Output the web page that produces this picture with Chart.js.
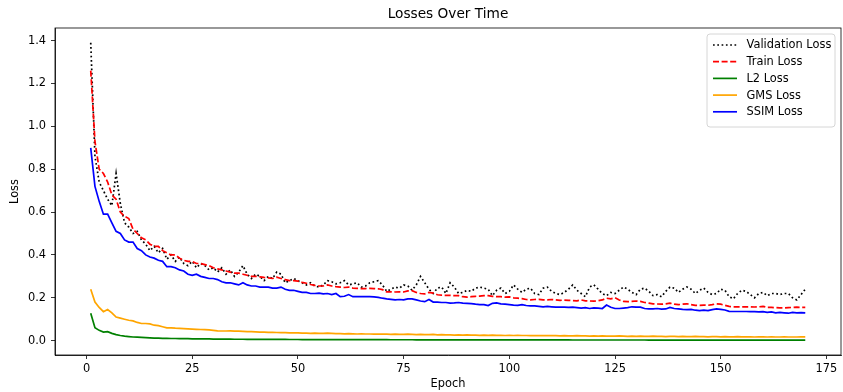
<!DOCTYPE html>
<html>
<head>
<meta charset="utf-8">
<title>Losses Over Time</title>
<script src="https://cdn.jsdelivr.net/npm/chart.js@4.4.0/dist/chart.umd.min.js"></script>
<style>
  html, body { margin: 0; padding: 0; background: #fff; }
  #wrap { width: 843px; height: 392px; }
</style>
</head>
<body>
<div id="wrap"><canvas id="chart-losses" width="843" height="392"></canvas></div>
<script>
// Epoch index (1..170)
const epochs = Array.from({ length: 170 }, (_, i) => i + 1);

const xTicks = [0, 25, 50, 75, 100, 125, 150, 175];
const yTicks = [0.0, 0.2, 0.4, 0.6, 0.8, 1.0, 1.2, 1.4];

const validationLoss = [
  1.39, 0.86, 0.74, 0.70, 0.66, 0.63, 0.78, 0.64, 0.55, 0.53,
  0.50, 0.51, 0.47, 0.45, 0.42, 0.44, 0.41, 0.43, 0.38, 0.40,
  0.37, 0.39, 0.36, 0.35, 0.37, 0.34, 0.36, 0.35, 0.33, 0.34,
  0.32, 0.34, 0.31, 0.33, 0.30, 0.32, 0.35, 0.31, 0.29, 0.31,
  0.30, 0.28, 0.30, 0.29, 0.32, 0.31, 0.27, 0.28, 0.29, 0.28,
  0.27, 0.26, 0.27, 0.255, 0.25, 0.26, 0.28, 0.275, 0.265, 0.27,
  0.28, 0.26, 0.265, 0.27, 0.25, 0.255, 0.27, 0.275, 0.28, 0.26,
  0.23, 0.24, 0.25, 0.245, 0.26, 0.255, 0.235, 0.26, 0.30, 0.27,
  0.24, 0.22, 0.245, 0.25, 0.22, 0.27, 0.25, 0.22, 0.225, 0.235,
  0.23, 0.245, 0.25, 0.245, 0.24, 0.21, 0.235, 0.245, 0.22, 0.23,
  0.26, 0.24, 0.225, 0.24, 0.245, 0.22, 0.215, 0.245, 0.25, 0.23,
  0.22, 0.215, 0.225, 0.24, 0.26, 0.235, 0.22, 0.205, 0.25, 0.26,
  0.24, 0.22, 0.21, 0.225, 0.22, 0.235, 0.25, 0.24, 0.225, 0.215,
  0.24, 0.245, 0.23, 0.21, 0.215, 0.205, 0.23, 0.25, 0.245, 0.225,
  0.24, 0.25, 0.24, 0.22, 0.235, 0.245, 0.225, 0.215, 0.22, 0.24,
  0.235, 0.205, 0.195, 0.22, 0.235, 0.23, 0.215, 0.20, 0.22, 0.225,
  0.21, 0.22, 0.22, 0.215, 0.22, 0.22, 0.20, 0.19, 0.215, 0.24
];

const trainLoss = [
  1.26, 0.93, 0.80, 0.78, 0.74, 0.68, 0.66, 0.60, 0.58, 0.57,
  0.52, 0.50, 0.48, 0.47, 0.45, 0.44, 0.44, 0.42, 0.41, 0.40,
  0.40, 0.385, 0.375, 0.37, 0.37, 0.36, 0.36, 0.355, 0.35, 0.34,
  0.335, 0.33, 0.325, 0.32, 0.315, 0.315, 0.31, 0.305, 0.30, 0.30,
  0.298, 0.295, 0.293, 0.29, 0.296, 0.29, 0.285, 0.28, 0.28, 0.278,
  0.272, 0.268, 0.262, 0.258, 0.255, 0.255, 0.26, 0.255, 0.252, 0.25,
  0.248, 0.25, 0.245, 0.244, 0.243, 0.243, 0.244, 0.243, 0.242, 0.238,
  0.228, 0.228, 0.227, 0.228, 0.227, 0.232, 0.233, 0.225, 0.22, 0.218,
  0.225, 0.222, 0.214, 0.212, 0.211, 0.211, 0.21, 0.21, 0.205, 0.203,
  0.205, 0.207, 0.208, 0.21, 0.21, 0.207, 0.205, 0.205, 0.203, 0.204,
  0.20, 0.198, 0.196, 0.192, 0.19, 0.192, 0.193, 0.19, 0.19, 0.192,
  0.19, 0.188, 0.189, 0.188, 0.187, 0.186, 0.19, 0.186, 0.185, 0.184,
  0.186, 0.19, 0.198, 0.195, 0.20, 0.19, 0.183, 0.182, 0.183, 0.185,
  0.183, 0.178, 0.175, 0.172, 0.171, 0.17, 0.172, 0.175, 0.17, 0.168,
  0.17, 0.172, 0.168, 0.165, 0.165, 0.166, 0.165, 0.168, 0.172, 0.17,
  0.165, 0.16, 0.158, 0.158, 0.158, 0.158, 0.158, 0.157, 0.158, 0.16,
  0.155, 0.155, 0.154, 0.153, 0.153, 0.154, 0.155, 0.156, 0.155, 0.155
];

const l2Loss = [
  0.128, 0.06, 0.048, 0.04, 0.042, 0.034, 0.028, 0.024, 0.021, 0.019,
  0.017, 0.016, 0.015, 0.014, 0.013, 0.012, 0.012, 0.011, 0.011, 0.010,
  0.010, 0.0095, 0.009, 0.009, 0.0085, 0.0085, 0.008, 0.008, 0.0078, 0.0075,
  0.0072, 0.007, 0.0068, 0.0068, 0.0066, 0.0065, 0.0064, 0.0063, 0.0062, 0.006,
  0.006, 0.0059, 0.0058, 0.0057, 0.0056, 0.0056, 0.0055, 0.0054, 0.0053, 0.0053,
  0.0052, 0.0051, 0.0051, 0.005, 0.005, 0.0049, 0.0049, 0.0048, 0.0048, 0.0047,
  0.0047, 0.0046, 0.0046, 0.0045, 0.0045, 0.0045, 0.0044, 0.0044, 0.0043, 0.0043,
  0.0043, 0.0042, 0.0042, 0.0042, 0.0041, 0.0041, 0.0041, 0.004, 0.004, 0.004,
  0.0039, 0.0039, 0.0039, 0.0039, 0.0038, 0.0038, 0.0038, 0.0037, 0.0037, 0.0037,
  0.0037, 0.0036, 0.0036, 0.0036, 0.0036, 0.0035, 0.0035, 0.0035, 0.0035, 0.0034,
  0.0034, 0.0034, 0.0034, 0.0034, 0.0033, 0.0033, 0.0033, 0.0033, 0.0033, 0.0032,
  0.0032, 0.0032, 0.0032, 0.0032, 0.0031, 0.0031, 0.0031, 0.0031, 0.0031, 0.0031,
  0.003, 0.003, 0.003, 0.003, 0.003, 0.003, 0.0029, 0.0029, 0.0029, 0.0029,
  0.0029, 0.0029, 0.0028, 0.0028, 0.0028, 0.0028, 0.0028, 0.0028, 0.0027, 0.0027,
  0.0027, 0.0027, 0.0027, 0.0027, 0.0027, 0.0026, 0.0026, 0.0026, 0.0026, 0.0026,
  0.0026, 0.0026, 0.0025, 0.0025, 0.0025, 0.0025, 0.0025, 0.0025, 0.0025, 0.0025,
  0.0024, 0.0024, 0.0024, 0.0024, 0.0024, 0.0024, 0.0024, 0.0024, 0.0024, 0.0024
];

const gmsLoss = [
  0.24, 0.18, 0.155, 0.135, 0.145, 0.13, 0.11, 0.105, 0.10, 0.095,
  0.092, 0.085, 0.08, 0.08, 0.078, 0.072, 0.07, 0.065, 0.06, 0.06,
  0.058, 0.057, 0.056, 0.055, 0.054, 0.053, 0.052, 0.051, 0.05, 0.048,
  0.046, 0.045, 0.045, 0.046, 0.044, 0.044, 0.043, 0.042, 0.042, 0.041,
  0.04, 0.04, 0.039, 0.039, 0.038, 0.037, 0.037, 0.036, 0.036, 0.036,
  0.035, 0.035, 0.034, 0.035, 0.034, 0.034, 0.035, 0.034, 0.033, 0.033,
  0.032, 0.033, 0.032, 0.031, 0.032, 0.031, 0.031, 0.03, 0.031, 0.03,
  0.03, 0.029, 0.03, 0.029, 0.029, 0.03, 0.029, 0.028, 0.029, 0.028,
  0.028, 0.029, 0.027, 0.028, 0.027, 0.027, 0.026, 0.027, 0.026, 0.027,
  0.026, 0.026, 0.025, 0.026, 0.025, 0.026, 0.025, 0.025, 0.024, 0.025,
  0.024, 0.025, 0.024, 0.024, 0.023, 0.024, 0.023, 0.023, 0.024, 0.023,
  0.023, 0.022, 0.023, 0.022, 0.022, 0.023, 0.022, 0.022, 0.021, 0.022,
  0.021, 0.022, 0.021, 0.021, 0.021, 0.022, 0.021, 0.02, 0.021, 0.02,
  0.021, 0.02, 0.02, 0.021, 0.02, 0.02, 0.019, 0.02, 0.02, 0.019,
  0.02, 0.019, 0.019, 0.02, 0.019, 0.019, 0.018, 0.019, 0.019, 0.018,
  0.019, 0.018, 0.018, 0.019, 0.018, 0.018, 0.018, 0.017, 0.018, 0.018,
  0.017, 0.018, 0.017, 0.017, 0.018, 0.017, 0.017, 0.017, 0.018, 0.018
];

const ssimLoss = [
  0.90, 0.72, 0.65, 0.59, 0.59, 0.55, 0.51, 0.50, 0.47, 0.46,
  0.46, 0.43, 0.42, 0.40, 0.39, 0.385, 0.375, 0.37, 0.345, 0.345,
  0.34, 0.33, 0.325, 0.31, 0.305, 0.31, 0.30, 0.295, 0.29, 0.29,
  0.285, 0.275, 0.27, 0.27, 0.265, 0.26, 0.27, 0.26, 0.255, 0.255,
  0.25, 0.25, 0.25, 0.245, 0.245, 0.25, 0.24, 0.235, 0.235, 0.23,
  0.225, 0.225, 0.22, 0.22, 0.222, 0.218, 0.22, 0.215, 0.22, 0.205,
  0.207, 0.215, 0.205, 0.205, 0.205, 0.205, 0.205, 0.204, 0.202, 0.198,
  0.195, 0.193, 0.19, 0.192, 0.19, 0.195, 0.195, 0.19, 0.185, 0.182,
  0.192, 0.18, 0.18, 0.178, 0.178, 0.175, 0.176, 0.178, 0.175, 0.174,
  0.173, 0.17, 0.168, 0.168, 0.164, 0.174, 0.176, 0.172, 0.17, 0.168,
  0.166, 0.165, 0.168, 0.164, 0.162, 0.162, 0.16, 0.158, 0.16, 0.158,
  0.156, 0.157, 0.156, 0.155, 0.156, 0.154, 0.152, 0.154, 0.15, 0.153,
  0.152, 0.15, 0.166, 0.156, 0.15, 0.15, 0.152, 0.154, 0.158, 0.156,
  0.156, 0.15, 0.148, 0.148, 0.15, 0.147, 0.148, 0.155, 0.15, 0.148,
  0.146, 0.145, 0.146, 0.142, 0.14, 0.142, 0.14, 0.145, 0.148, 0.146,
  0.143, 0.137, 0.136, 0.136, 0.136, 0.136, 0.135, 0.135, 0.134, 0.135,
  0.132, 0.134, 0.13, 0.132, 0.13, 0.128, 0.132, 0.13, 0.131, 0.13
];

const series = [
  { label: 'Validation Loss', data: validationLoss, color: '#000000', dash: [1.7, 2.6] },
  { label: 'Train Loss', data: trainLoss, color: '#ff0000', dash: [6, 2.6] },
  { label: 'L2 Loss', data: l2Loss, color: '#008000', dash: [] },
  { label: 'GMS Loss', data: gmsLoss, color: '#ffa500', dash: [] },
  { label: 'SSIM Loss', data: ssimLoss, color: '#0000ff', dash: [] }
];

const FONT = "'DejaVu Sans', sans-serif";
const LINE_W = 1.7;

// matplotlib-like frame, title and legend box
const mplDecor = {
  id: 'mplDecor',
  afterDraw(chart) {
    const { ctx, chartArea: a } = chart;
    ctx.save();
    // spines
    ctx.strokeStyle = '#000';
    ctx.lineWidth = 0.8;
    ctx.strokeRect(a.left, a.top, a.right - a.left, a.bottom - a.top);

    // title
    ctx.fillStyle = '#000';
    ctx.font = `13.7px ${FONT}`;
    ctx.textAlign = 'center';
    ctx.textBaseline = 'middle';
    ctx.fillText('Losses Over Time', (a.left + a.right) / 2, 14);

    // legend
    const box = { x: 707, y: 34, w: 128, h: 93 };
    ctx.beginPath();
    ctx.roundRect(box.x, box.y, box.w, box.h, 3);
    ctx.fillStyle = 'rgba(255,255,255,0.8)';
    ctx.fill();
    ctx.strokeStyle = '#cccccc';
    ctx.lineWidth = 0.8;
    ctx.stroke();

    ctx.font = `11.4px ${FONT}`;
    ctx.textAlign = 'left';
    series.forEach((s, i) => {
      const y = 45 + i * 16.7;
      ctx.beginPath();
      ctx.setLineDash(s.dash);
      ctx.strokeStyle = s.color;
      ctx.lineWidth = LINE_W;
      ctx.moveTo(713, y);
      ctx.lineTo(737, y);
      ctx.stroke();
      ctx.setLineDash([]);
      ctx.fillStyle = '#000';
      ctx.fillText(s.label, 746.5, y + 0.5);
    });
    ctx.restore();
  }
};

new Chart(document.getElementById('chart-losses'), {
  type: 'line',
  data: {
    datasets: series.map((s, i) => ({
      label: s.label,
      data: epochs.map((e, k) => ({ x: e, y: s.data[k] })),
      borderColor: s.color,
      borderDash: s.dash,
      borderWidth: LINE_W,
      pointRadius: 0,
      tension: 0,
      fill: false,
      order: series.length - i
    }))
  },
  options: {
    responsive: false,
    animation: false,
    layout: { padding: { top: 28, right: 2, left: 0, bottom: 0 } },
    plugins: {
      legend: { display: false },
      title: { display: false },
      tooltip: { enabled: false }
    },
    scales: {
      x: {
        type: 'linear',
        min: -7.45,
        max: 178.45,
        afterBuildTicks: s => { s.ticks = xTicks.map(v => ({ value: v })); },
        afterFit: s => { s.height = 37; },
        grid: { drawOnChartArea: false, drawTicks: true, tickLength: 4, color: '#000', lineWidth: 0.8 },
        border: { display: true, color: '#000', width: 0.8 },
        ticks: { color: '#000', font: { family: FONT, size: 11.4 }, padding: 3, maxRotation: 0, autoSkip: false },
        title: { display: true, text: 'Epoch', color: '#000', font: { family: FONT, size: 11.4 }, padding: { top: 0, bottom: 1 } }
      },
      y: {
        min: -0.067,
        max: 1.459,
        afterBuildTicks: s => { s.ticks = yTicks.map(v => ({ value: v })); },
        afterFit: s => { s.width = 55; },
        grid: { drawOnChartArea: false, drawTicks: true, tickLength: 4, color: '#000', lineWidth: 0.8 },
        border: { display: true, color: '#000', width: 0.8 },
        ticks: { color: '#000', font: { family: FONT, size: 11.4 }, padding: 5, autoSkip: false, callback: v => v.toFixed(1) },
        title: { display: true, text: 'Loss', color: '#000', font: { family: FONT, size: 11.4 }, padding: { top: 8, bottom: 0 } }
      }
    }
  },
  plugins: [mplDecor]
});
</script>
</body>
</html>
